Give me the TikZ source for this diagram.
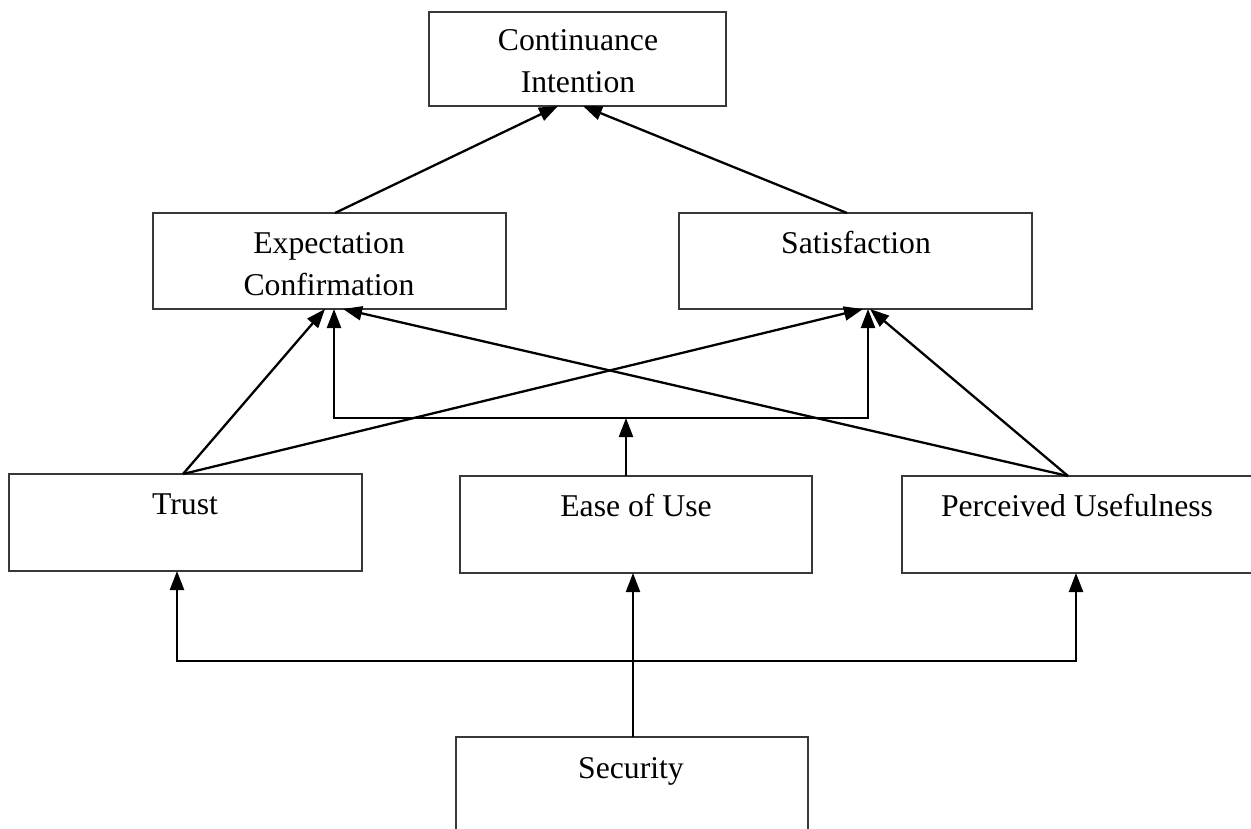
\documentclass[tikz,border=0pt]{standalone}
\usepackage{fontspec}
\setmainfont{Liberation Serif}
\usetikzlibrary{arrows.meta,calc}
\begin{document}
\begin{tikzpicture}[x=1pt,y=-1pt,
  box/.style={draw=black!78, line width=1.4pt, rectangle, inner sep=0pt, outer sep=0pt},
  txt/.style={anchor=base, inner sep=0pt, font=\fontsize{31.7}{38}\selectfont},
  conn/.style={draw=black, line width=2.3pt},
  tip/.style={-{Triangle[length=19pt,width=14pt]}},
  tips/.style={{Triangle[length=19pt,width=14pt]}-{Triangle[length=19pt,width=14pt]}}]
\useasboundingbox (0,0) rectangle (1251,828);
% boxes
\node[box, minimum width=297pt, minimum height=94pt] (ci) at (577.5,59) {};
\node[box, minimum width=353pt, minimum height=96pt] (ec) at (329.5,261) {};
\node[box, minimum width=353pt, minimum height=96pt] (sat) at (855.5,261) {};
\node[box, minimum width=353pt, minimum height=97pt] (trust) at (185.5,522.5) {};
\node[box, minimum width=352pt, minimum height=97pt] (ease) at (636,524.5) {};
\node[box, minimum width=353pt, minimum height=97pt] (pu) at (1078.5,524.5) {};
\node[box, minimum width=352pt, minimum height=98pt] (sec) at (632,786) {};
% texts
\node[txt] (ciA) at (578,50) {Continuance};
\node[txt] (ciB) at (578,92) {Intention};
\node[txt] (ecA) at (329,253) {Expectation};
\node[txt] (ecB) at (329,295) {Confirmation};
\node[txt] (satA) at (856,253) {Satisfaction};
\node[txt] (trustA) at (185,514) {Trust};
\node[txt] (easeA) at (636,516) {Ease of Use};
\node[txt] (puA) at (1077,516) {Perceived Usefulness};
\node[txt] (secA) at (631,778) {Security};
% junction coordinates
\coordinate (bk) at (626,418);
\coordinate (sj) at (633,661);
% connectors
\draw[conn, tip] ([xshift=5.5pt]ec.north) -- ([xshift=-19.5pt]ci.south);
\draw[conn, tip] ([xshift=-8.5pt]sat.north) -- ([xshift=5.5pt]ci.south);
\draw[conn, tip] ([xshift=-2.5pt]trust.north) -- ([xshift=-4.5pt]ec.south);
\draw[conn, tip] ([xshift=-2.5pt]trust.north) -- ([xshift=7.5pt]sat.south);
\draw[conn, tip] ([xshift=-10.5pt]pu.north) -- ([xshift=13.5pt]ec.south);
\draw[conn, tip] ([xshift=-10.5pt]pu.north) -- ([xshift=14.5pt]sat.south);
\draw[conn, tip] ([xshift=-10pt]ease.north) -- (bk);
\draw[conn, tips] ([xshift=4.5pt]ec.south) |- (bk) -| ([xshift=12.5pt]sat.south);
\draw[conn, tip] ([xshift=1pt]sec.north) -- ([xshift=-3pt]ease.south);
\draw[conn, tips] ([xshift=-8.5pt]trust.south) |- (sj) -| ([xshift=-2.5pt]pu.south);
\end{tikzpicture}
\end{document}
